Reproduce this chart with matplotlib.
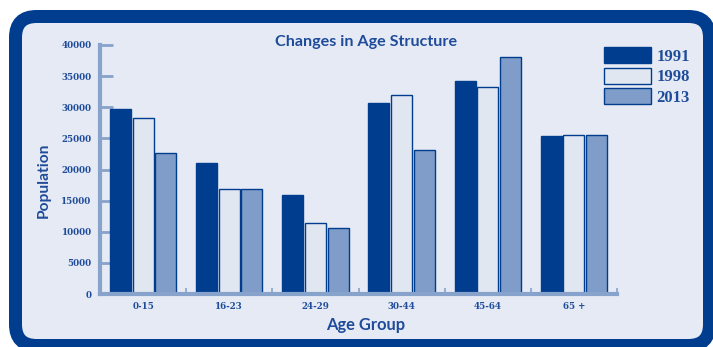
import matplotlib
matplotlib.use("Agg")
import matplotlib.pyplot as plt
from matplotlib.patches import FancyBboxPatch
from matplotlib.ticker import FixedLocator
import numpy as np

# Population by age group for three census years
age_groups = ["0-15", "16-23", "24-29", "30-44", "45-64", "65 +"]
years = ["1991", "1998", "2013"]
pop_1991 = [29700, 21000, 15900, 30700, 34200, 25400]
pop_1998 = [28200, 16800, 11400, 31900, 33300, 25600]
pop_2013 = [22600, 16800, 10600, 23100, 38100, 25500]
y_ticks = list(range(0, 40001, 5000))

navy = "#003d8f"
text_blue = "#1f4c9a"
axis_blue = "#87a2cb"
panel_bg = "#e6eaf4"
fills = [navy, "#e1e7f1", "#7f9dc8"]

W, H, DPI = 713, 347, 100
fig = plt.figure(figsize=(W / DPI, H / DPI), dpi=DPI, facecolor="white")

# Rounded panel frame, drawn in pixel units
bg = fig.add_axes([0, 0, 1, 1])
bg.set_xlim(0, W)
bg.set_ylim(H, 0)
bg.set_axis_off()
frame = FancyBboxPatch((15.5, 16.5), 709.5 - 15.5, 345.5 - 16.5,
                       boxstyle="round,pad=0,rounding_size=21",
                       facecolor=panel_bg, edgecolor=navy,
                       linewidth=13 * 72 / DPI)
bg.add_patch(frame)

ax = fig.add_axes([100 / W, 1 - 294 / H, (617 - 100) / W, (294 - 45) / H])
ax.patch.set_alpha(0)

x = np.arange(len(age_groups)) + 0.5
step = 0.263
width = 0.244
series = [pop_1991, pop_1998, pop_2013]
bars = []
for i, (vals, fc) in enumerate(zip(series, fills)):
    b = ax.bar(x + (i - 1) * step, vals, width=width, color=fc,
               edgecolor=navy, linewidth=1.0, zorder=2)
    bars.append(b)

ax.set_xlim(0, 6)
ax.set_ylim(0, 40000)

for s in ["top", "right"]:
    ax.spines[s].set_visible(False)
for s in ["left", "bottom"]:
    ax.spines[s].set_color(axis_blue)
    ax.spines[s].set_linewidth(3)
    ax.spines[s].set_zorder(3)

ax.yaxis.set_major_locator(FixedLocator(y_ticks))
ax.set_yticklabels([str(v) for v in y_ticks])
ax.tick_params(axis="y", direction="in", length=9.5, width=2,
               color=axis_blue, pad=6, labelsize=6.3, labelcolor=text_blue)

ax.set_xticks(x)
ax.set_xticklabels(age_groups)
ax.xaxis.set_minor_locator(FixedLocator([1, 2, 3, 4, 5, 6]))
ax.tick_params(axis="x", which="major", length=0, pad=6,
               labelsize=6.3, labelcolor=text_blue)
ax.tick_params(axis="x", which="minor", direction="in", length=4,
               width=1.2, color=axis_blue)

for lbl in ax.get_xticklabels() + ax.get_yticklabels():
    lbl.set_fontfamily("DejaVu Serif")
    lbl.set_fontweight("bold")

sans = ["Lato", "DejaVu Sans"]
fig.text(366 / W, 1 - 42 / H, "Changes in Age Structure", ha="center",
         va="center", fontsize=11.6, fontweight="bold", color=text_blue,
         family=sans)
fig.text(366 / W, 1 - 325 / H, "Age Group", ha="center", va="center",
         fontsize=11.9, fontweight="bold", color=text_blue, family=sans)
fig.text(43.5 / W, 1 - 180.5 / H, "Population", ha="center", va="center",
         rotation=90, fontsize=11.2, fontweight="bold", color=text_blue,
         family=sans)

leg = ax.legend([b[0] for b in bars], years, loc="upper left",
                bbox_to_anchor=(604 / W, 1 - 47 / H),
                bbox_transform=fig.transFigure, frameon=False,
                borderpad=0, borderaxespad=0, handlelength=2.8,
                handleheight=1.1, labelspacing=0.17, handletextpad=0.35,
                prop={"family": "Liberation Serif", "weight": "bold",
                      "size": 12})
for t in leg.get_texts():
    t.set_color(text_blue)

fig.savefig("out.png", dpi=DPI, facecolor="white")
